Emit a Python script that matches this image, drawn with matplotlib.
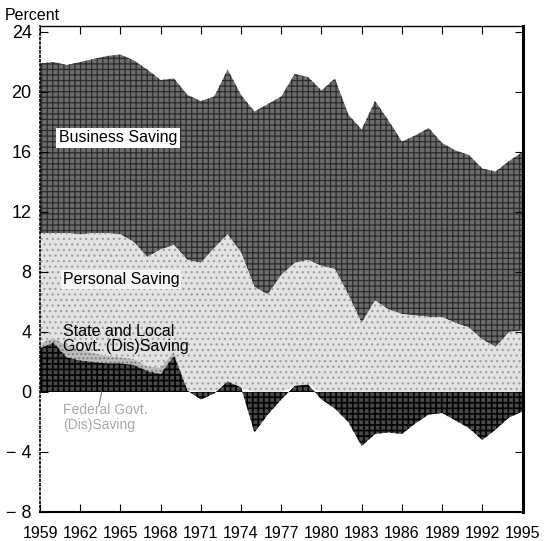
import numpy as np
import matplotlib
matplotlib.use('Agg')
import matplotlib.pyplot as plt

years = np.arange(1959, 1996)

# percent of GDP
business = [11.3, 11.4, 11.2, 11.5, 11.6, 11.8, 12.0, 12.1, 12.5, 11.3, 11.1, 11.0,
            10.8, 10.1, 11.0, 10.5, 11.7, 12.7, 11.9, 12.6, 12.2, 11.7, 12.7, 12.0,
            12.9, 13.3, 12.6, 11.5, 12.0, 12.6, 11.6, 11.5, 11.5, 11.4, 11.7, 11.4, 11.9]
personal = [7.4, 7.0, 7.5, 7.7, 8.0, 8.2, 8.2, 7.8, 7.3, 7.9, 7.1, 8.7,
            8.6, 9.6, 9.8, 9.0, 7.0, 6.5, 7.8, 8.2, 8.3, 8.4, 8.2, 6.5,
            4.6, 6.1, 5.5, 5.2, 5.1, 5.0, 5.0, 4.6, 4.3, 3.5, 3.0, 4.0, 4.1]
state_local = [0.3, 0.3, 0.8, 0.7, 0.6, 0.5, 0.4, 0.4, 0.3, 0.4, 0.3, 0.0,
               0.0, 0.0, 0.0, 0.0, 0.0, 0.0, 0.0, 0.0, 0.0, 0.0, 0.0, 0.0,
               0.0, 0.0, 0.0, 0.0, 0.0, 0.0, 0.0, 0.0, 0.0, 0.0, 0.0, 0.0, 0.0]
federal = [2.9, 3.3, 2.3, 2.1, 2.0, 1.9, 1.9, 1.8, 1.4, 1.2, 2.4, 0.1,
           -0.5, -0.1, 0.7, 0.3, -2.7, -1.5, -0.5, 0.4, 0.5, -0.5, -1.1, -2.0,
           -3.6, -2.8, -2.7, -2.8, -2.1, -1.5, -1.4, -1.9, -2.4, -3.2, -2.5, -1.7, -1.3]

yticks = [-8, -4, 0, 4, 8, 12, 16, 20, 24]
ytick_labels = ['\u2212 8', '\u2212 4', '0', '4', '8', '12', '16', '20', '24']
xticks = list(range(1959, 1996, 3))

fed = np.array(federal)
base = np.clip(fed, 0, None)
state_top = base + np.array(state_local)
pers_top = state_top + np.array(personal)
total = pers_top + np.array(business)

fig = plt.figure(figsize=(5.44, 5.41), dpi=100)
ax = fig.add_axes([40 / 544, 29 / 541, 482.5 / 544, 486 / 541])

# halftone-ish fills: grey base + dot/grid hatch
plt.rcParams['hatch.linewidth'] = 0.9
ax.fill_between(years, pers_top, total, facecolor='#6c6c6c', edgecolor='#2c2c2c',
                hatch='+++', linewidth=0)
plt.rcParams['hatch.linewidth'] = 0.9
ax.fill_between(years, state_top, pers_top, facecolor='#e2e2e2', edgecolor='#a0a0a0',
                hatch='...', linewidth=0)
ax.fill_between(years, base, state_top, facecolor='#bcbcbc', edgecolor='#7c7c7c',
                hatch='....', linewidth=0)
plt.rcParams['hatch.linewidth'] = 1.2
ax.fill_between(years, 0, fed, facecolor='#4a4a4a', edgecolor='#000000',
                hatch='+++', linewidth=0)

ax.set_xlim(1959, 1995)
ax.set_ylim(-8, 24.4)
ax.set_xticks(xticks)
ax.set_yticks(yticks)
ax.set_yticklabels(ytick_labels, family=['Liberation Sans', 'DejaVu Sans'], fontsize=13)
ax.set_xticklabels([str(y) for y in xticks],
                   family=['Liberation Sans Narrow', 'Liberation Sans'], fontsize=11.5)
ax.tick_params(axis='both', direction='in', length=6, width=0.8,
               top=True, right=True)
ax.tick_params(axis='x', pad=10)
ax.tick_params(axis='y', pad=6)

ax.spines['left'].set_linestyle(':')
ax.spines['left'].set_linewidth(1.2)
ax.spines['right'].set_linewidth(2.2)
ax.spines['bottom'].set_linewidth(1.5)
ax.spines['top'].set_linewidth(1.0)

txt = dict(family=['Liberation Sans', 'DejaVu Sans'], fontsize=11.5)
ax.text(1960.4, 16.95, 'Business Saving', va='center', ha='left',
        bbox=dict(facecolor='white', edgecolor='none', pad=2), **txt)
ax.text(1960.7, 7.5, 'Personal Saving', va='center', ha='left',
        bbox=dict(facecolor='#f4f4f4', edgecolor='none', pad=1.5), **txt)
ax.text(1960.7, 3.5, 'State and Local\nGovt. (Dis)Saving', va='center', ha='left',
        linespacing=1.0, **txt)
ax.text(1960.7, -1.7, 'Federal Govt.\n(Dis)Saving', va='center', ha='left',
        linespacing=1.1, color='#a8a8a8', family=['Liberation Sans', 'DejaVu Sans'],
        fontsize=10)
ax.plot([1963.6, 1963.4], [0, -0.9], color='#808080', lw=0.8)

fig.text(5 / 544, 1 - 15 / 541, 'Percent', va='center', ha='left', **txt)

fig.savefig('out.png', dpi=100)
